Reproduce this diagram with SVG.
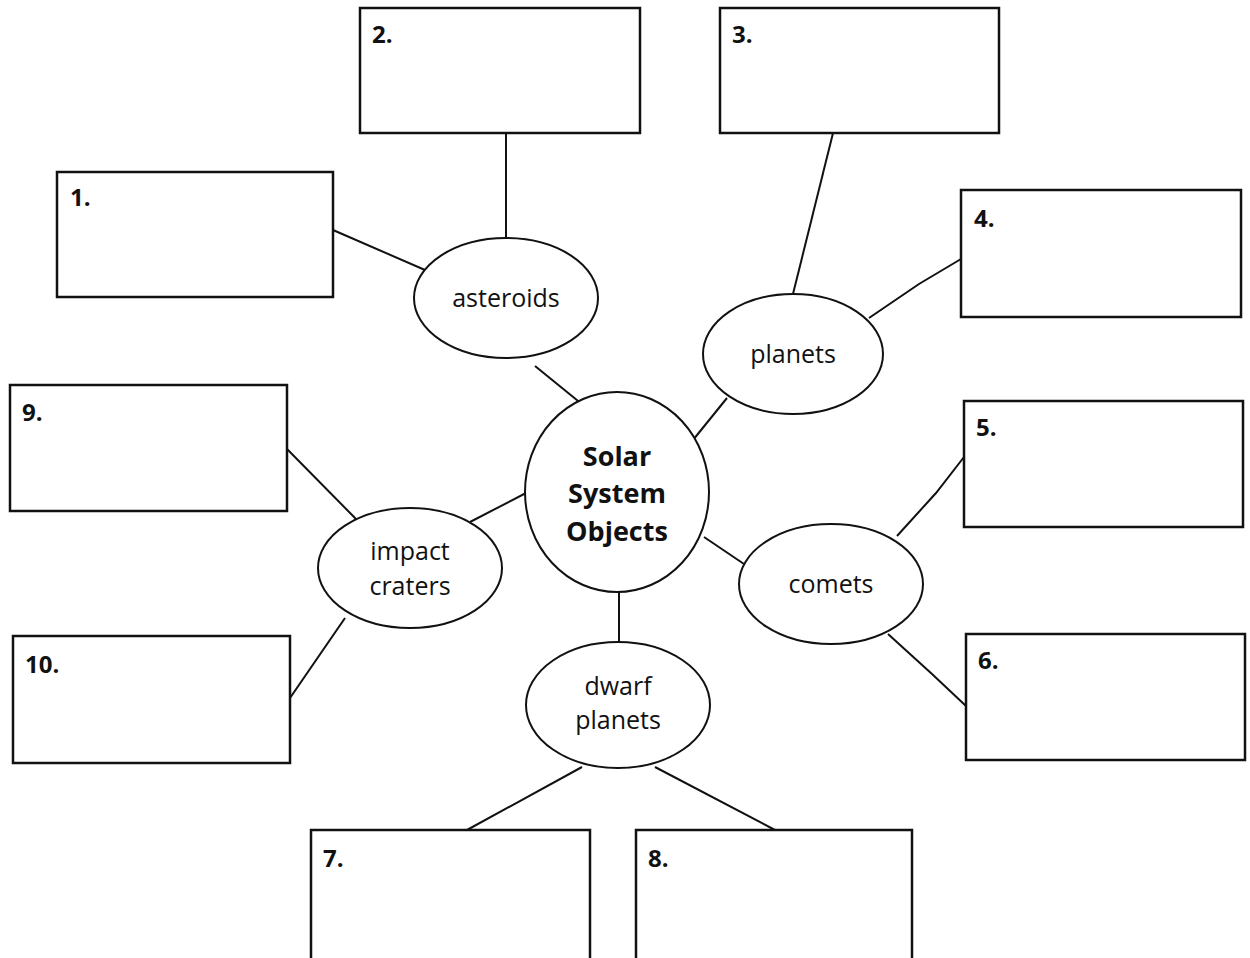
<svg xmlns="http://www.w3.org/2000/svg" width="1250" height="958" viewBox="0 0 1250 958">
<style>
.box{fill:#fff;stroke:#111;stroke-width:2.5}
.ell{fill:#fff;stroke:#111;stroke-width:2}
.con{fill:none;stroke:#111;stroke-width:2}
.num{font-family:"Open Sans","Liberation Sans",sans-serif;font-weight:bold;font-size:24px;fill:#111}
.lbl{font-family:"Open Sans","Liberation Sans",sans-serif;font-size:25px;fill:#111;text-anchor:middle}
.ctr{font-family:"Open Sans","Liberation Sans",sans-serif;font-weight:bold;font-size:27px;fill:#111;text-anchor:middle}
</style>
<rect width="1250" height="958" fill="#fff"/>
<g id="connectors">
<line class="con" x1="333" y1="230" x2="425" y2="270"/>
<line class="con" x1="506" y1="133" x2="506" y2="238"/>
<line class="con" x1="833" y1="133" x2="793" y2="294"/>
<polyline class="con" points="961,259 919,284 869,318"/>
<line class="con" x1="535" y1="366" x2="583" y2="405"/>
<line class="con" x1="727" y1="398" x2="693" y2="440"/>
<line class="con" x1="470" y1="522" x2="526" y2="493"/>
<line class="con" x1="287" y1="449" x2="356" y2="519"/>
<line class="con" x1="290" y1="698" x2="345" y2="618"/>
<line class="con" x1="704" y1="537" x2="744" y2="564"/>
<polyline class="con" points="897,536 936,493 964,457"/>
<polyline class="con" points="888,634 932,674 966,706"/>
<line class="con" x1="619" y1="592" x2="619" y2="643"/>
<line class="con" x1="582" y1="767" x2="467" y2="830"/>
<line class="con" x1="655" y1="767" x2="775" y2="830"/>
</g>
<g id="box1"><rect class="box" x="57" y="172" width="276" height="125"/><text class="num" x="70" y="206">1.</text></g>
<g id="box2"><rect class="box" x="360" y="8" width="280" height="125"/><text class="num" x="372" y="43">2.</text></g>
<g id="box3"><rect class="box" x="720" y="8" width="279" height="125"/><text class="num" x="732" y="43">3.</text></g>
<g id="box4"><rect class="box" x="961" y="190" width="280" height="127"/><text class="num" x="974" y="227">4.</text></g>
<g id="box5"><rect class="box" x="964" y="401" width="279" height="126"/><text class="num" x="976" y="436">5.</text></g>
<g id="box6"><rect class="box" x="966" y="634" width="279" height="126"/><text class="num" x="978" y="669">6.</text></g>
<g id="box7"><rect class="box" x="311" y="830" width="279" height="130"/><text class="num" x="323" y="867">7.</text></g>
<g id="box8"><rect class="box" x="636" y="830" width="276" height="130"/><text class="num" x="648" y="867">8.</text></g>
<g id="box9"><rect class="box" x="10" y="385" width="277" height="126"/><text class="num" x="22" y="421">9.</text></g>
<g id="box10"><rect class="box" x="13" y="636" width="277" height="127"/><text class="num" x="25" y="673">10.</text></g>
<g id="asteroids"><ellipse class="ell" cx="506" cy="298" rx="92" ry="60"/><text class="lbl" x="506" y="307">asteroids</text></g>
<g id="planets"><ellipse class="ell" cx="793" cy="354" rx="90" ry="60"/><text class="lbl" x="793" y="363">planets</text></g>
<g id="center"><ellipse class="ell" cx="617" cy="492" rx="92" ry="100"/><text class="ctr" x="617" y="466">Solar</text><text class="ctr" x="617" y="503">System</text><text class="ctr" x="617" y="541">Objects</text></g>
<g id="impact"><ellipse class="ell" cx="410" cy="568" rx="92" ry="60"/><text class="lbl" x="410" y="560">impact</text><text class="lbl" x="410" y="595">craters</text></g>
<g id="comets"><ellipse class="ell" cx="831" cy="584" rx="92" ry="60"/><text class="lbl" x="831" y="593">comets</text></g>
<g id="dwarf"><ellipse class="ell" cx="618" cy="705" rx="92" ry="63"/><text class="lbl" x="618" y="695">dwarf</text><text class="lbl" x="618" y="729">planets</text></g>
</svg>
